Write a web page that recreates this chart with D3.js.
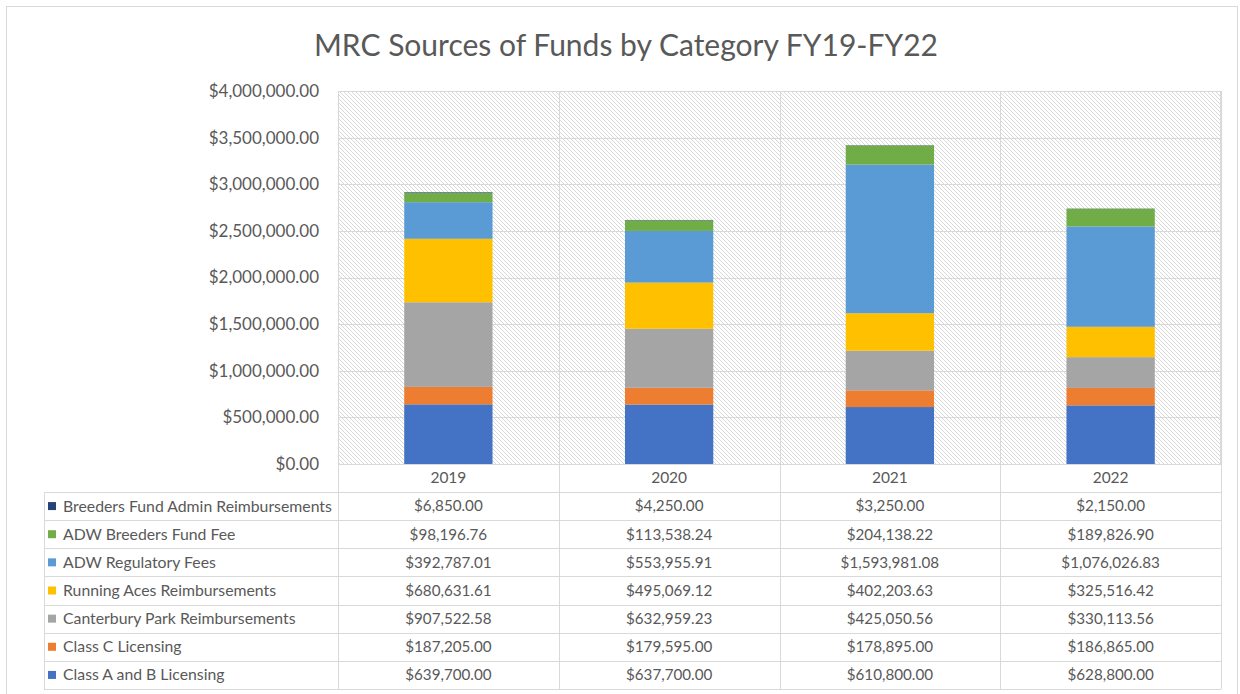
<!DOCTYPE html>
<html>
<head>
<meta charset="utf-8">
<script src="https://cdn.jsdelivr.net/npm/d3@7"></script>
<style>
  html, body { margin: 0; padding: 0; background: #fff; }
  svg { display: block; }
  text { font-family: Lato, "Open Sans", sans-serif; }
</style>
</head>
<body>
<svg id="chart" width="1240" height="694"></svg>
<script>
const years = ["2019", "2020", "2021", "2022"];
const seriesNames = [
  "Class A and B Licensing",
  "Class C Licensing",
  "Canterbury Park Reimbursements",
  "Running Aces Reimbursements",
  "ADW Regulatory Fees",
  "ADW Breeders Fund Fee",
  "Breeders Fund Admin Reimbursements"
];
const seriesColors = ["#4472C4", "#ED7D31", "#A5A5A5", "#FFC000", "#5B9BD5", "#70AD47", "#264478"];
const classAB = [639700.00, 637700.00, 610800.00, 628800.00];
const classC = [187205.00, 179595.00, 178895.00, 186865.00];
const canterbury = [907522.58, 632959.23, 425050.56, 330113.56];
const runningAces = [680631.61, 495069.12, 402203.63, 325516.42];
const adwRegulatory = [392787.01, 553955.91, 1593981.08, 1076026.83];
const adwBreeders = [98196.76, 113538.24, 204138.22, 189826.90];
const breedersAdmin = [6850.00, 4250.00, 3250.00, 2150.00];
const seriesValues = [classAB, classC, canterbury, runningAces, adwRegulatory, adwBreeders, breedersAdmin];
const yTicks = [0, 500000, 1000000, 1500000, 2000000, 2500000, 3000000, 3500000, 4000000];
const title = "MRC Sources of Funds by Category FY19-FY22";

const svg = d3.select("#chart");
const textColor = "#595959";
const gridColor = "#d9d9d9";

const L = 338, R = 1221, T = 91, B = 464;
const tableLeft = 44, rowH = (689 - 492) / 7, headerBottom = 492;

// outer border
svg.append("rect").attr("x", 6.5).attr("y", 6.5).attr("width", 1231).attr("height", 700)
  .attr("fill", "#fff").attr("stroke", "#d9d9d9");

// hatch pattern
const defs = svg.append("defs");
const pat = defs.append("pattern").attr("id", "hatch").attr("patternUnits", "userSpaceOnUse")
  .attr("width", 4).attr("height", 4);
pat.append("rect").attr("width", 4).attr("height", 4).attr("fill", "#fff");
pat.append("path").attr("d", "M-1,-1 L5,5 M3,-1 L5,1 M-1,3 L1,5")
  .attr("stroke", "#d4d4d4").attr("stroke-width", 0.9);

// title
svg.append("text").attr("x", 626).attr("y", 56).attr("text-anchor", "middle")
  .attr("font-size", 30).attr("fill", textColor).text(title);

const y = d3.scaleLinear().domain([0, 4000000]).range([B, T]);
const xCol = d3.scaleBand().domain(years).range([L, R]).padding(0);
const xBar = d3.scaleBand().domain(years).range([L, R]).paddingInner(0.6).paddingOuter(0.3);

// plot background
svg.append("rect").attr("x", L).attr("y", T).attr("width", R - L).attr("height", B - T)
  .attr("fill", "url(#hatch)");

// horizontal gridlines
svg.append("g").selectAll("line").data(yTicks).join("line")
  .attr("x1", L).attr("x2", R)
  .attr("y1", d => Math.round(y(d)) + 0.5).attr("y2", d => Math.round(y(d)) + 0.5)
  .attr("stroke", gridColor).attr("stroke-width", 1);

// y axis labels
const fmtMoney = v => "$" + d3.format(",.2f")(v);
const yAxis = d3.axisLeft(y).tickValues(yTicks).tickFormat(fmtMoney).tickSize(0).tickPadding(19);
const gy = svg.append("g").attr("transform", `translate(${L},0)`).call(yAxis);
gy.select(".domain").remove();
gy.selectAll("text").attr("font-size", 17).attr("fill", textColor)
  .attr("font-family", "Lato, 'Open Sans', sans-serif");

// vertical column lines (plot + table)
const colEdges = years.map(d => xCol(d)).concat([R]);
svg.append("g").selectAll("line").data(colEdges).join("line")
  .attr("x1", d => Math.round(d) + 0.5).attr("x2", d => Math.round(d) + 0.5)
  .attr("y1", T).attr("y2", 689)
  .attr("stroke", gridColor);

// stacked bars
const stackData = years.map((yr, i) => {
  const o = { year: yr };
  seriesNames.forEach((s, k) => o[s] = seriesValues[k][i]);
  return o;
});
const stacked = d3.stack().keys(seriesNames)(stackData);
svg.append("g").selectAll("g").data(stacked).join("g")
  .attr("fill", (d, i) => seriesColors[i])
  .selectAll("rect").data(d => d).join("rect")
  .attr("x", d => xBar(d.data.year))
  .attr("width", xBar.bandwidth())
  .attr("y", d => y(d[1]))
  .attr("height", d => y(d[0]) - y(d[1]));

// year header labels
svg.append("g").selectAll("text").data(years).join("text")
  .attr("x", d => xCol(d) + xCol.bandwidth() / 2)
  .attr("y", (B + headerBottom) / 2).attr("dy", "0.35em")
  .attr("text-anchor", "middle").attr("font-size", 15.5).attr("fill", textColor)
  .text(d => d);

// table rows (top row = last series)
const rowOrder = seriesNames.map((s, k) => k).reverse();
const lineYs = d3.range(8).map(i => headerBottom + i * rowH);
svg.append("g").selectAll("line").data(lineYs).join("line")
  .attr("x1", tableLeft).attr("x2", R)
  .attr("y1", d => Math.round(d) + 0.5).attr("y2", d => Math.round(d) + 0.5)
  .attr("stroke", gridColor);
svg.append("line").attr("x1", tableLeft + 0.5).attr("x2", tableLeft + 0.5)
  .attr("y1", headerBottom).attr("y2", 689).attr("stroke", gridColor);

const rows = svg.append("g").selectAll("g").data(rowOrder).join("g")
  .attr("transform", (k, i) => `translate(0,${headerBottom + i * rowH + rowH / 2})`);
rows.append("rect").attr("x", 48).attr("y", -4).attr("width", 8).attr("height", 8)
  .attr("fill", k => seriesColors[k]);
rows.append("text").attr("x", 63).attr("dy", "0.35em").attr("font-size", 15.8)
  .attr("fill", textColor).text(k => seriesNames[k]);
rows.selectAll("text.val").data(k => seriesValues[k].map((v, i) => ({ v, yr: years[i] })))
  .join("text").attr("class", "val")
  .attr("x", d => xCol(d.yr) + xCol.bandwidth() / 2).attr("dy", "0.35em")
  .attr("text-anchor", "middle").attr("font-size", 15.2).attr("fill", textColor)
  .text(d => fmtMoney(d.v));

// plot area border
svg.append("rect").attr("x", L + 0.5).attr("y", T + 0.5).attr("width", R - L - 1).attr("height", B - T)
  .attr("fill", "none").attr("stroke", gridColor);
</script>
</body>
</html>
